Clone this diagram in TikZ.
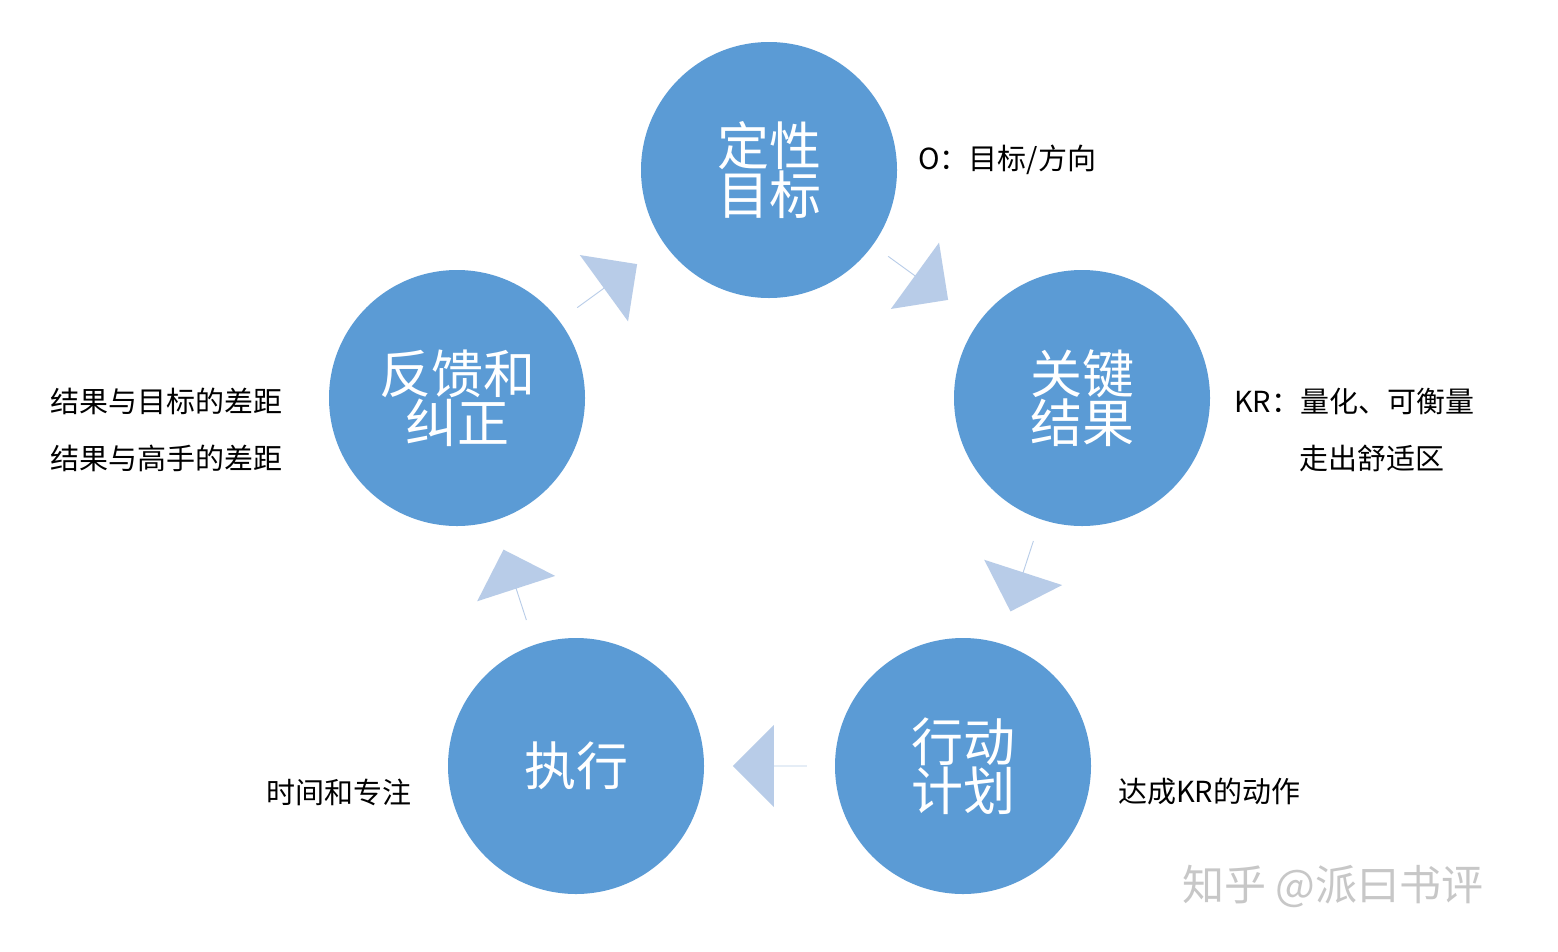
\documentclass[tikz,border=0pt]{standalone}
\usepackage{fontspec}
\setmainfont{Noto Sans CJK SC}
\usetikzlibrary{shapes.arrows}
\definecolor{cblue}{HTML}{5B9BD5}
\definecolor{ablue}{HTML}{B8CCE8}
\begin{document}
\begin{tikzpicture}[x=1pt,y=-1pt,
  circ/.style={circle,fill=cblue,minimum size=256pt,inner sep=0pt,text=white,font=\fontsize{52}{0}\selectfont,align=center},
  barrow/.style={single arrow,fill=ablue,minimum height=74pt,minimum width=82pt,single arrow head extend=18pt,inner sep=0pt,anchor=center},
  side/.style={font=\fontsize{29}{0}\selectfont,inner sep=0pt}]
\useasboundingbox (0,0) rectangle (1558,951);
\fill[white] (0,0) rectangle (1558,951);
\node[circ] (o) at (769,170) {\fontsize{52}{96}\selectfont 定性\\目标};
\node[circ] (kr) at (1082,398) {\fontsize{52}{96}\selectfont 关键\\结果};
\node[circ] (plan) at (963,766) {\fontsize{52}{96}\selectfont 行动\\计划};
\node[circ] (exec) at (576,766) {执行};
\node[circ] (fb) at (457,398) {\fontsize{52}{66}\selectfont 反馈和\\纠正};
\node[barrow,rotate=-36] (a1) at (918,278) {};
\node[barrow,rotate=-108] (a2) at (1022,576) {};
\node[barrow,rotate=180] (a3) at (770,766) {};
\node[barrow,rotate=108] (a4) at (515,585) {};
\node[barrow,rotate=36] (a5) at (607,286) {};
\node[side,anchor=west] (t1) at (918,160) {O：目标/方向};
\node[side,anchor=west] (t2) at (1234,401) {KR：量化、可衡量};
\node[side,anchor=west] (t3) at (1299,458) {走出舒适区};
\node[side,anchor=west] (t4) at (1118,792) {达成KR的动作};
\node[side,anchor=east] (t5) at (412,792) {时间和专注};
\node[side,anchor=west] (t6) at (50,401) {结果与目标的差距};
\node[side,anchor=west] (t7) at (50,458) {结果与高手的差距};
\node[anchor=west,inner sep=0pt,text=black!22,font=\fontsize{42}{0}\selectfont] (wm) at (1182,886) {知乎 @派曰书评};
\end{tikzpicture}
\end{document}
